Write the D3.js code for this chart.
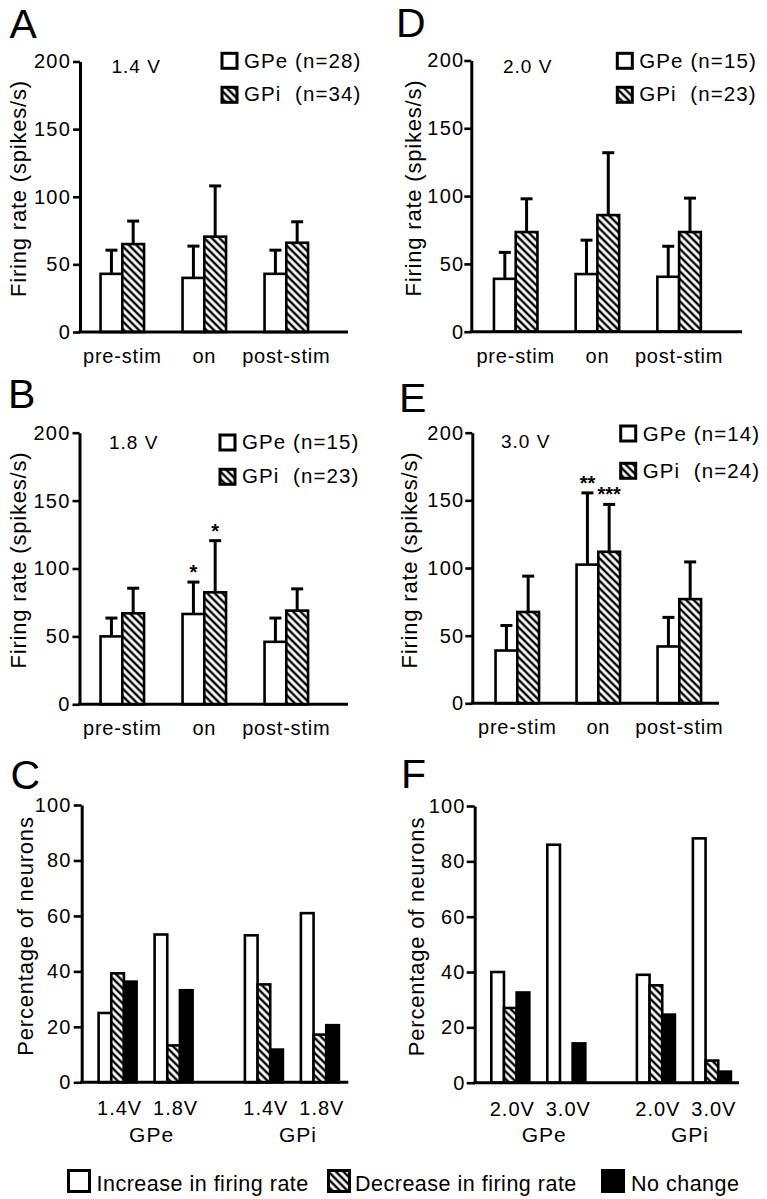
<!DOCTYPE html>
<html><head><meta charset="utf-8">
<script src="https://cdn.jsdelivr.net/npm/d3@7/dist/d3.min.js"></script>
<style>
body{margin:0;background:#fff}
svg{display:block;background:#fff}
text{font-family:"Liberation Sans",Arial,Helvetica,sans-serif;fill:#000}
</style></head><body>
<svg id="chart" width="767" height="1199"></svg>
<script>
// ---------- data ----------
const rateCategories = ["pre-stim", "on", "post-stim"];
const rateSeries = ["GPe", "GPi"];
const rateTicks = [0, 50, 100, 150, 200];

// A: 1.4 V
const voltA = "1.4 V";
const legendA = ["GPe (n=28)", "GPi  (n=34)"];
const gpeMeanA = [43, 40, 43];
const gpeSdA = [17.5, 23.5, 17.5];
const gpiMeanA = [65, 70.5, 66];
const gpiSdA = [17, 37.5, 15.5];

// D: 2.0 V
const voltD = "2.0 V";
const legendD = ["GPe (n=15)", "GPi  (n=23)"];
const gpeMeanD = [39, 42.5, 40.5];
const gpeSdD = [19.5, 25, 22.5];
const gpiMeanD = [73.5, 86, 73.5];
const gpiSdD = [24.5, 46, 25];

// B: 1.8 V
const voltB = "1.8 V";
const legendB = ["GPe (n=15)", "GPi  (n=23)"];
const gpeMeanB = [50, 66.5, 46];
const gpeSdB = [13.5, 23.5, 17.5];
const gpiMeanB = [67, 82.5, 69];
const gpiSdB = [18.5, 38, 16];
const gpeStarsB = ["", "*", ""];
const gpiStarsB = ["", "*", ""];

// E: 3.0 V
const voltE = "3.0 V";
const legendE = ["GPe (n=14)", "GPi  (n=24)"];
const gpeMeanE = [39, 102.5, 42];
const gpeSdE = [18.5, 53, 21.5];
const gpiMeanE = [67.5, 112, 77];
const gpiSdE = [26.5, 35, 27.5];
const gpeStarsE = ["", "**", ""];
const gpiStarsE = ["", "***", ""];

// C / F: percentage of neurons
const pctRegions = ["GPe", "GPi"];
const pctTicks = [0, 20, 40, 60, 80, 100];
const outcomes = ["Increase in firing rate", "Decrease in firing rate", "No change"];

const voltsC = ["1.4V", "1.8V"];
// order: GPe 1.4V, GPe 1.8V, GPi 1.4V, GPi 1.8V
const increaseC = [25, 53.3, 53, 61];
const decreaseC = [39.3, 13.3, 35.3, 17.2];
const noChangeC = [36.3, 33.2, 11.8, 20.6];

const voltsF = ["2.0V", "3.0V"];
// order: GPe 2.0V, GPe 3.0V, GPi 2.0V, GPi 3.0V
const increaseF = [40, 86, 39, 88.3];
const decreaseF = [27, 0, 35.2, 8];
const noChangeF = [32.6, 14.2, 24.6, 4];

// ---------- drawing ----------
const svg = d3.select("#chart");
const defs = svg.append("defs");
const pat = defs.append("pattern").attr("id", "hatch")
  .attr("patternUnits", "userSpaceOnUse").attr("width", 10).attr("height", 5.3)
  .attr("patternTransform", "rotate(45)");
pat.append("rect").attr("width", 10).attr("height", 5.3).attr("fill", "#fff");
pat.append("line").attr("x1", 0).attr("x2", 10).attr("y1", 2.65).attr("y2", 2.65)
  .attr("stroke", "#000").attr("stroke-width", 2.4);

const FILLS = {GPe: "#fff", GPi: "url(#hatch)"};
const OUT_FILLS = ["#fff", "url(#hatch)", "#000"];

function centeredBand(domain, c0, step, bw) {
  const n = domain.length;
  const p = 1 - bw / step;
  return d3.scaleBand().domain(domain)
    .range([c0 - step / 2, c0 + (n - 0.5) * step])
    .paddingInner(p).paddingOuter(p / 2);
}

function styleAxis(g, fs, ls) {
  g.select(".domain").attr("stroke", "#000").attr("stroke-width", 3);
  g.selectAll(".tick line").attr("stroke", "#000").attr("stroke-width", 2.6);
  g.selectAll(".tick text").attr("font-size", fs).attr("letter-spacing", ls).attr("fill", "#000");
}

function panelLetter(ch, x, y) {
  svg.append("text").attr("x", x).attr("y", y).attr("font-size", 41).text(ch);
}

function yLabel(txt, cx, cy) {
  svg.append("text").attr("transform", `translate(${cx},${cy}) rotate(-90)`)
    .attr("text-anchor", "middle").attr("dy", "0.35em")
    .attr("font-size", 22).attr("letter-spacing", 0.8).text(txt);
}

function ratePanel(L, volt, legend, gpeMean, gpeSd, gpiMean, gpiSd, gpeStars, gpiStars) {
  const g = svg.append("g");
  const y = d3.scaleLinear().domain([0, 200]).range([L.y0, L.yTop]);
  const x = centeredBand(rateCategories, L.c0, L.step, 43.5);
  const xs = d3.scaleBand().domain(rateSeries).range([0, x.bandwidth()]);
  const series = [
    {key: "GPe", mean: gpeMean, sd: gpeSd, stars: gpeStars || []},
    {key: "GPi", mean: gpiMean, sd: gpiSd, stars: gpiStars || []}
  ];
  const rows = [];
  series.forEach(s => rateCategories.forEach((c, i) => rows.push({
    cat: c, key: s.key, mean: s.mean[i], sd: s.sd[i], star: s.stars[i] || ""
  })));

  g.selectAll("rect.bar").data(rows).join("rect").attr("class", "bar")
    .attr("x", d => x(d.cat) + xs(d.key))
    .attr("y", d => y(d.mean))
    .attr("width", xs.bandwidth())
    .attr("height", d => y(0) - y(d.mean))
    .attr("fill", d => FILLS[d.key]).attr("stroke", "#000").attr("stroke-width", 2.6);

  const cx = d => x(d.cat) + xs(d.key) + xs.bandwidth() / 2;
  g.selectAll("line.err").data(rows).join("line").attr("class", "err")
    .attr("x1", cx).attr("x2", cx)
    .attr("y1", d => y(d.mean)).attr("y2", d => y(d.mean + d.sd))
    .attr("stroke", "#000").attr("stroke-width", 3);
  g.selectAll("line.cap").data(rows).join("line").attr("class", "cap")
    .attr("x1", d => cx(d) - 6).attr("x2", d => cx(d) + 6)
    .attr("y1", d => y(d.mean + d.sd)).attr("y2", d => y(d.mean + d.sd))
    .attr("stroke", "#000").attr("stroke-width", 3);
  g.selectAll("text.star").data(rows.filter(d => d.star)).join("text").attr("class", "star")
    .attr("x", cx).attr("y", d => y(d.mean + d.sd) - 3)
    .attr("text-anchor", "middle").attr("font-size", 20).attr("font-weight", "bold")
    .text(d => d.star);

  // x axis line + category labels
  g.append("line").attr("x1", L.x0 - 1.5).attr("x2", L.xEnd).attr("y1", y(0)).attr("y2", y(0))
    .attr("stroke", "#000").attr("stroke-width", 3);
  const xa = g.append("g").attr("transform", `translate(0,${y(0)})`)
    .call(d3.axisBottom(x).tickSize(0));
  xa.select(".domain").remove();
  xa.selectAll(".tick text").attr("y", 31).attr("dy", 0)
    .attr("font-size", 20).attr("letter-spacing", 0.8).attr("fill", "#000");

  const ya = g.append("g").attr("transform", `translate(${L.x0},0)`)
    .call(d3.axisLeft(y).tickValues(rateTicks).tickSize(7).tickSizeOuter(0).tickPadding(L.tp));
  styleAxis(ya, 20, 1.2);

  g.append("text").attr("x", L.vx).attr("y", L.vy).attr("font-size", 19)
    .attr("letter-spacing", 1).text(volt);

  rateSeries.forEach((s, i) => {
    g.append("rect").attr("x", L.legX).attr("y", L.legY[i]).attr("width", 15).attr("height", 15)
      .attr("fill", FILLS[s]).attr("stroke", "#000").attr("stroke-width", 3);
    g.append("text").attr("x", L.legX + 22).attr("y", L.legBase[i])
      .attr("font-size", 20.5).attr("letter-spacing", 1.1).style("white-space", "pre")
      .text(legend[i]);
  });

  panelLetter(L.letter, L.lx, L.ly);
  yLabel("Firing rate (spikes/s)", L.ylx, L.yly);
}

function pctPanel(L, volts, inc, dec, none) {
  const g = svg.append("g");
  const y = d3.scaleLinear().domain([0, 100]).range([L.y0, L.yTop]);
  const innerStep = 56, groupW = 38;
  const xr = centeredBand(pctRegions, L.c0, L.step, innerStep * 2);
  const xv = centeredBand(volts, innerStep / 2, innerStep, groupW);
  const xo = d3.scaleBand().domain(outcomes).range([0, xv.bandwidth()]);
  const vals = [inc, dec, none];
  const rows = [];
  pctRegions.forEach((r, ri) => volts.forEach((v, vi) => outcomes.forEach((o, oi) => {
    rows.push({r, v, o, oi, val: vals[oi][ri * volts.length + vi]});
  })));
  g.selectAll("rect.bar").data(rows.filter(d => d.val > 0)).join("rect").attr("class", "bar")
    .attr("x", d => xr(d.r) + xv(d.v) + xo(d.o))
    .attr("y", d => y(d.val))
    .attr("width", xo.bandwidth())
    .attr("height", d => y(0) - y(d.val))
    .attr("fill", d => OUT_FILLS[d.oi]).attr("stroke", "#000").attr("stroke-width", 2.6);

  g.append("line").attr("x1", L.x0 - 1.5).attr("x2", L.xEnd).attr("y1", y(0)).attr("y2", y(0))
    .attr("stroke", "#000").attr("stroke-width", 3);

  const ya = g.append("g").attr("transform", `translate(${L.x0},0)`)
    .call(d3.axisLeft(y).tickValues(pctTicks).tickSize(8).tickSizeOuter(0).tickPadding(L.tp));
  styleAxis(ya, 20, 1.2);

  pctRegions.forEach(r => {
    volts.forEach(v => {
      g.append("text").attr("x", xr(r) + xv(v) + xv.bandwidth() / 2 + 2).attr("y", y(0) + 33)
        .attr("text-anchor", "middle").attr("font-size", 20).attr("letter-spacing", 1).text(v);
    });
    g.append("text").attr("x", xr(r) + xr.bandwidth() / 2 + 6).attr("y", y(0) + 59.5)
      .attr("text-anchor", "middle").attr("font-size", 21).attr("letter-spacing", 1).text(r);
  });

  panelLetter(L.letter, L.lx, L.ly);
  yLabel("Percentage of neurons", L.ylx, L.yly);
}

// ---------- layout ----------
const layoutA = {x0: 80, y0: 332, yTop: 61.5, xEnd: 348, c0: 122.3, step: 82, tp: 2,
  vx: 111.5, vy: 72.7, legX: 222, legY: [53.3, 87.3], legBase: [68.3, 100.8],
  letter: "A", lx: 9.5, ly: 37.5, ylx: 18.3, yly: 188.5};
const layoutD = {x0: 471.3, y0: 331.7, yTop: 60.5, xEnd: 742, c0: 515.7, step: 81.7, tp: 0,
  vx: 503, vy: 72.7, legX: 617.3, legY: [53.3, 87.3], legBase: [68.3, 100.8],
  letter: "D", lx: 396, ly: 37, ylx: 413.5, yly: 188};
const layoutB = {x0: 79.5, y0: 704.3, yTop: 432.7, xEnd: 348, c0: 122.3, step: 82, tp: 2,
  vx: 109, vy: 449, legX: 220, legY: [435, 469.3], legBase: [448.5, 482.8],
  letter: "B", lx: 8, ly: 408, ylx: 18.3, yly: 560};
const layoutE = {x0: 472.3, y0: 703.3, yTop: 432.7, xEnd: 719, c0: 517.3, step: 81, tp: 1,
  vx: 501, vy: 448.3, legX: 620.7, legY: [426, 463.3], legBase: [440.5, 477.8],
  letter: "E", lx: 399, ly: 411.7, ylx: 409.5, yly: 560};
const layoutC = {x0: 81.7, y0: 1082.3, yTop: 805, xEnd: 348.3, c0: 145.6, step: 146.3, tp: 2,
  letter: "C", lx: 10.5, ly: 789, ylx: 25, yly: 936};
const layoutF = {x0: 474.7, y0: 1082.7, yTop: 806, xEnd: 739, c0: 538.3, step: 145.6, tp: 1,
  letter: "F", lx: 401, ly: 788, ylx: 416, yly: 936.5};

ratePanel(layoutA, voltA, legendA, gpeMeanA, gpeSdA, gpiMeanA, gpiSdA);
ratePanel(layoutD, voltD, legendD, gpeMeanD, gpeSdD, gpiMeanD, gpiSdD);
ratePanel(layoutB, voltB, legendB, gpeMeanB, gpeSdB, gpiMeanB, gpiSdB, gpeStarsB, gpiStarsB);
ratePanel(layoutE, voltE, legendE, gpeMeanE, gpeSdE, gpiMeanE, gpiSdE, gpeStarsE, gpiStarsE);
pctPanel(layoutC, voltsC, increaseC, decreaseC, noChangeC);
pctPanel(layoutF, voltsF, increaseF, decreaseF, noChangeF);

// bottom legend
const legItemX = [68.5, 328.5, 602.5];
const legTextX = [96.5, 355, 631];
outcomes.forEach((o, i) => {
  svg.append("rect").attr("x", legItemX[i]).attr("y", 1170.5).attr("width", 21).attr("height", 21)
    .attr("fill", OUT_FILLS[i]).attr("stroke", "#000").attr("stroke-width", 3);
  svg.append("text").attr("x", legTextX[i]).attr("y", 1190.5).attr("font-size", 21.5)
    .attr("letter-spacing", 0.5).text(o);
});
</script>
</body></html>
